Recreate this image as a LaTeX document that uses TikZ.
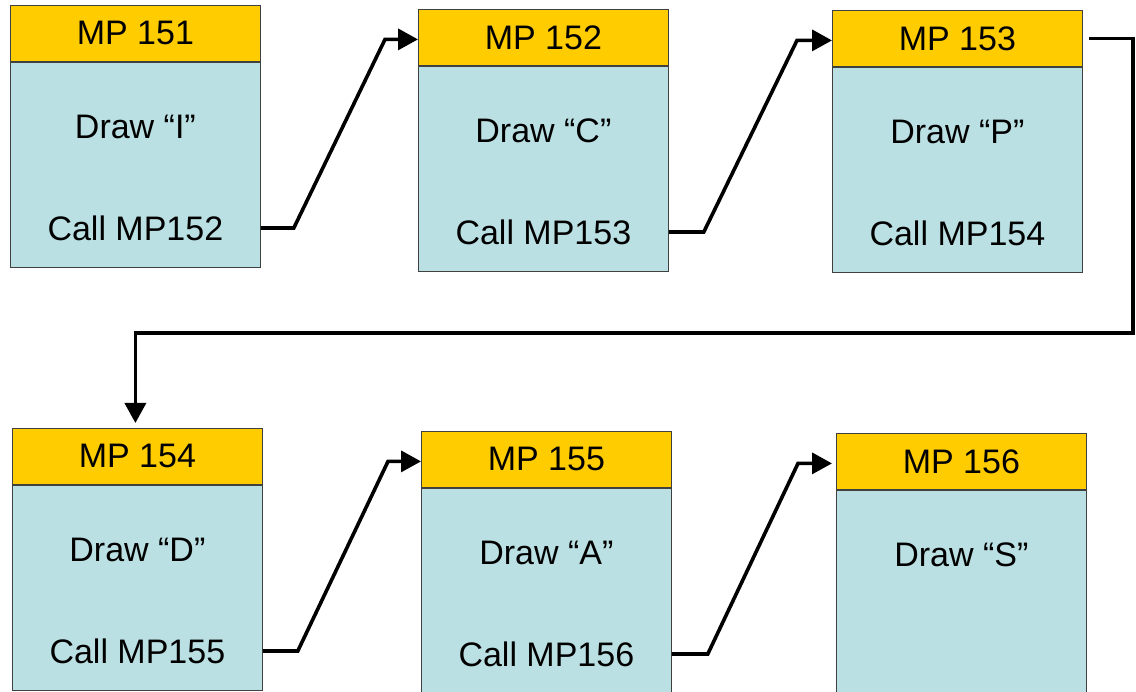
\documentclass[tikz,border=0pt]{standalone}
\usepackage{fontspec}
\setmainfont{Liberation Sans}
\usetikzlibrary{arrows.meta,calc}
\definecolor{hdrfill}{HTML}{FFCC00}
\definecolor{bodyfill}{HTML}{BAE0E3}
\definecolor{boxedge}{HTML}{404040}

% one macro page block: name, top-left x, top-left y, title, draw line, call line
\newcommand\mpblock[6]{%
  \node[hdr, anchor=north west] (h#1) at (#2,#3) {#4};
  \node[bdy, anchor=north west] (b#1) at (h#1.south west) {};
  \node[txt] (d#1) at ($(h#1.north)+(0,122)$) {#5};
  \node[txt] (c#1) at ($(h#1.north)+(0,223)$) {#6};
}

\begin{document}
\begin{tikzpicture}[x=1pt, y=-1pt,
  hdr/.style={draw=boxedge, line width=0.8pt, fill=hdrfill, minimum width=250pt,
    minimum height=56pt, inner sep=0pt, font=\fontsize{34}{38}\selectfont},
  bdy/.style={draw=boxedge, line width=0.8pt, fill=bodyfill, minimum width=250pt,
    minimum height=205pt, inner sep=0pt},
  txt/.style={inner sep=0pt, font=\fontsize{34}{38}\selectfont},
  conn/.style={line width=3.6pt, line join=miter,
    -{Triangle[length=20pt, width=21pt]}}]

\useasboundingbox (0,0) rectangle (1136,692);

\mpblock{1}{10}{5}{MP 151}{Draw “I”}{Call MP152}
\mpblock{2}{418}{9}{MP 152}{Draw “C”}{Call MP153}
\mpblock{3}{832}{10}{MP 153}{Draw “P”}{Call MP154}
\mpblock{4}{12}{428}{MP 154}{Draw “D”}{Call MP155}
\mpblock{5}{421}{431}{MP 155}{Draw “A”}{Call MP156}
\mpblock{6}{836}{433}{MP 156}{Draw “S”}{}

% calls between neighbouring blocks
\draw[conn] (b1.east |- c1) -- ++(33,0) -- ($(h2.west)+(-33,2)$) -- ($(h2.west)+(0,2)$);
\draw[conn] (b2.east |- c2) -- ++(35,0) -- ($(h3.west)+(-35,2)$) -- ($(h3.west)+(0,2)$);
\draw[conn] (b4.east |- c4) -- ++(35,0) -- ($(h5.west)+(-33,2)$) -- ($(h5.west)+(0,2)$);
\draw[conn] (b5.east |- c5) -- ++(36,0) -- ($(h6.west)+(-38,2)$) -- ($(h6.west)+(-4,2)$);

% wrap-around call from the first row to the second
\coordinate (wrap) at (1133,333);
\draw[conn] ($(h3.east)+(6,0)$) -| (wrap) -| ($(h4.north)+(-2,-5)$);
\end{tikzpicture}
\end{document}
